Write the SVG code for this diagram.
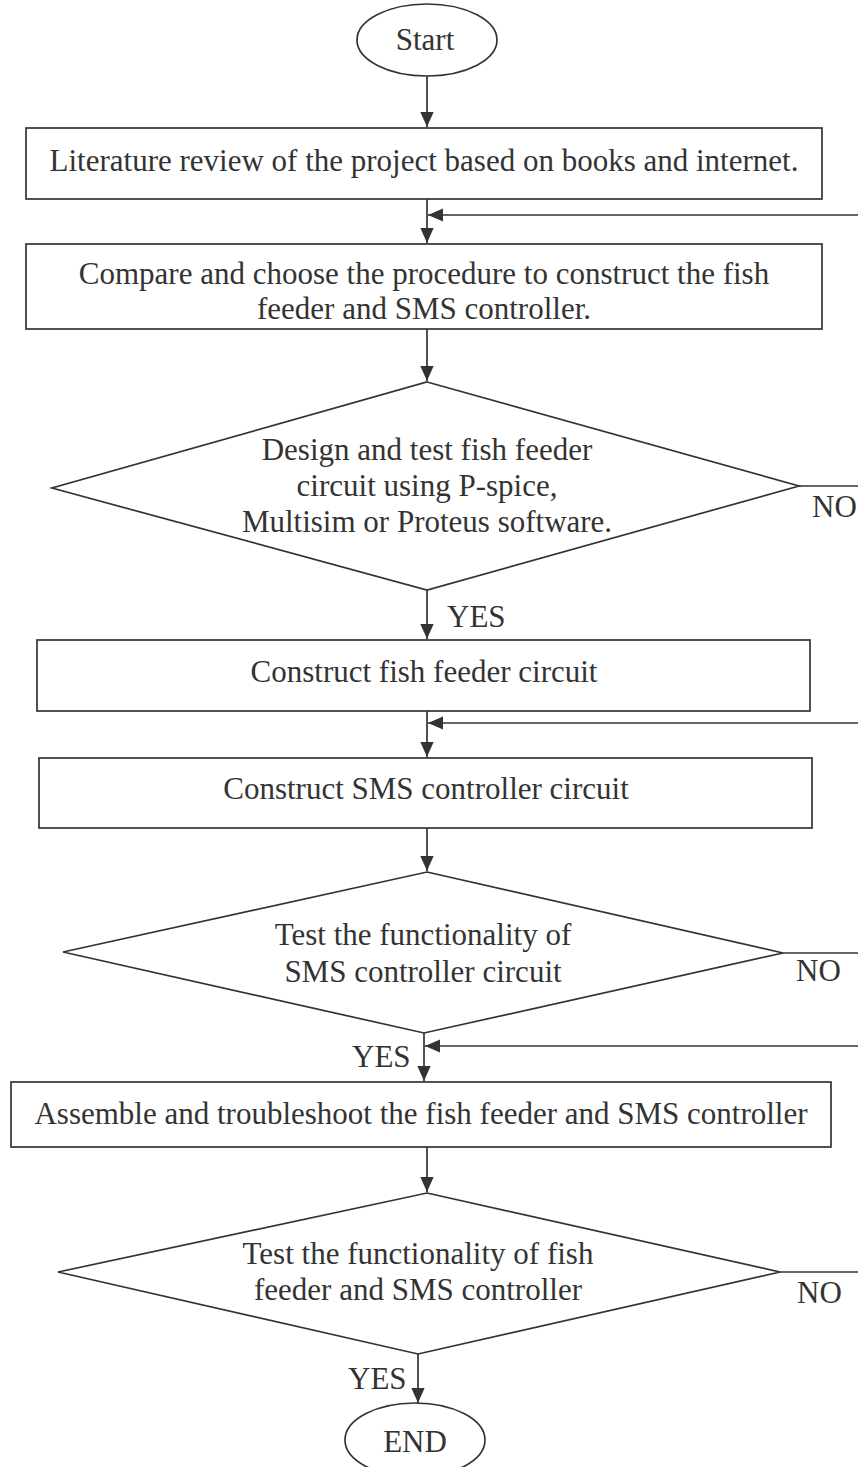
<svg xmlns="http://www.w3.org/2000/svg" width="858" height="1467" viewBox="0 0 858 1467">
<defs>
<marker id="ah" markerWidth="15" markerHeight="17" refX="17" refY="7.5" orient="auto" markerUnits="userSpaceOnUse" viewBox="0 0 17 15">
<path d="M0,0 L17,7.5 L0,15 Z" fill="#333"/>
</marker>
</defs>
<style>
.s{fill:none;stroke:#333;stroke-width:1.7}
.c{fill:none;stroke:#333;stroke-width:1.7}
.t{font-family:"Liberation Serif","Times New Roman",serif;font-size:31px;fill:#333;text-anchor:middle}
.l{font-family:"Liberation Serif","Times New Roman",serif;font-size:31px;fill:#333}
</style>
<rect width="858" height="1467" fill="#fff"/>
<g id="start"><ellipse class="s" cx="427" cy="40" rx="70" ry="36"/><text class="t" x="425" y="50">Start</text></g>
<g id="lit"><rect class="s" x="26" y="128" width="796" height="71"/><text class="t" x="424" y="171">Literature review of the project based on books and internet.</text></g>
<g id="compare"><rect class="s" x="26" y="244" width="796" height="85"/><text class="t" x="424" y="284">Compare and choose the procedure to construct the fish</text><text class="t" x="424" y="319">feeder and SMS controller.</text></g>
<g id="design"><polygon class="s" points="427,382 799,486 427,590 52,488"/><text class="t" x="427" y="460">Design and test fish feeder</text><text class="t" x="427" y="496">circuit using P-spice,</text><text class="t" x="427" y="532">Multisim or Proteus software.</text></g>
<g id="ffc"><rect class="s" x="37" y="640" width="773" height="71"/><text class="t" x="424" y="682">Construct fish feeder circuit</text></g>
<g id="smsc"><rect class="s" x="39" y="758" width="773" height="70"/><text class="t" x="426" y="799">Construct SMS controller circuit</text></g>
<g id="test1"><polygon class="s" points="427,872 783,953 424,1033 63,952"/><text class="t" x="423" y="945">Test the functionality of</text><text class="t" x="423" y="982">SMS controller circuit</text></g>
<g id="assemble"><rect class="s" x="11" y="1082" width="820" height="65"/><text class="t" x="421" y="1124">Assemble and troubleshoot the fish feeder and SMS controller</text></g>
<g id="test2"><polygon class="s" points="427,1193 780,1272 418,1354 58,1272"/><text class="t" x="418" y="1264">Test the functionality of fish</text><text class="t" x="418" y="1300">feeder and SMS controller</text></g>
<g id="end"><ellipse class="s" cx="415" cy="1440" rx="70" ry="37"/><text class="t" x="415" y="1452">END</text></g>
<g id="connectors">
<line class="c" x1="427" y1="76" x2="427" y2="127" marker-end="url(#ah)"/>
<line class="c" x1="427" y1="199" x2="427" y2="243" marker-end="url(#ah)"/>
<line class="c" x1="858" y1="215" x2="428" y2="215" marker-end="url(#ah)"/>
<line class="c" x1="427" y1="329" x2="427" y2="381" marker-end="url(#ah)"/>
<line class="c" x1="799" y1="486" x2="858" y2="486"/>
<line class="c" x1="427" y1="590" x2="427" y2="639" marker-end="url(#ah)"/>
<line class="c" x1="427" y1="711" x2="427" y2="757" marker-end="url(#ah)"/>
<line class="c" x1="858" y1="723" x2="428" y2="723" marker-end="url(#ah)"/>
<line class="c" x1="427" y1="828" x2="427" y2="871" marker-end="url(#ah)"/>
<line class="c" x1="783" y1="953" x2="858" y2="953"/>
<line class="c" x1="424" y1="1033" x2="424" y2="1081" marker-end="url(#ah)"/>
<line class="c" x1="858" y1="1046" x2="425" y2="1046" marker-end="url(#ah)"/>
<line class="c" x1="427" y1="1147" x2="427" y2="1192" marker-end="url(#ah)"/>
<line class="c" x1="780" y1="1272" x2="858" y2="1272"/>
<line class="c" x1="418" y1="1354" x2="418" y2="1403" marker-end="url(#ah)"/>
<text class="l" x="812" y="517">NO</text>
<text class="l" x="447" y="627">YES</text>
<text class="l" x="796" y="981">NO</text>
<text class="l" x="352" y="1067">YES</text>
<text class="l" x="797" y="1303">NO</text>
<text class="l" x="348" y="1389">YES</text>
</g>
</svg>
